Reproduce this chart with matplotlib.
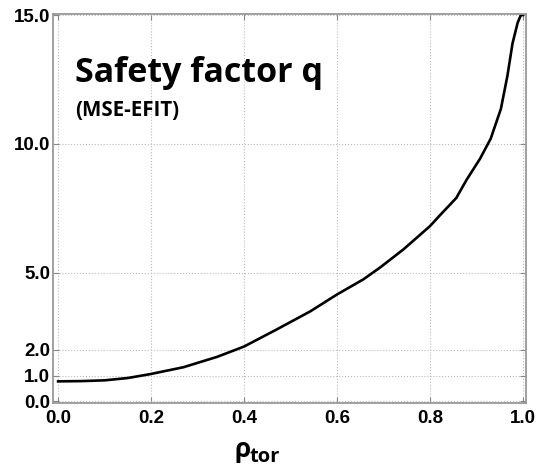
import matplotlib
matplotlib.use('Agg')
import matplotlib.pyplot as plt

# q profile
rho = [0.0, 0.05, 0.1, 0.15, 0.198, 0.27, 0.342, 0.4, 0.471, 0.543, 0.6,
       0.657, 0.693, 0.743, 0.8, 0.823, 0.857, 0.879, 0.908, 0.931, 0.953,
       0.967, 0.978, 0.989, 0.996, 1.0]
q = [0.78, 0.79, 0.82, 0.91, 1.06, 1.33, 1.73, 2.13, 2.8, 3.5, 4.15,
     4.74, 5.2, 5.9, 6.8, 7.25, 7.9, 8.6, 9.42, 10.2, 11.36,
     12.64, 13.9, 14.7, 15.0, 15.0]

xticks = [0.0, 0.2, 0.4, 0.6, 0.8, 1.0]
yticks = [0.0, 1.0, 2.0, 5.0, 10.0, 15.0]

fig = plt.figure(figsize=(5.37, 4.66), dpi=100)
ax = fig.add_axes([53/537, 1 - 403/466, 473/537, 389/466])

ax.plot(rho, q, color='black', lw=1.9, solid_joinstyle='round')

ax.set_xlim(-0.011, 1.007)
ax.set_ylim(-0.06, 15.04)
ax.set_xticks(xticks)
ax.set_yticks(yticks)
ax.set_xticklabels(['%.1f' % v for v in xticks], fontweight='bold',
                   fontsize=13.5, family='Liberation Sans')
ax.set_yticklabels(['%.1f' % v for v in yticks], fontweight='bold',
                   fontsize=13.5, family='Liberation Sans')
ax.tick_params(direction='in', length=4, color='#888888', top=True, right=True, pad=5)
ax.tick_params(axis='y', pad=2)
ax.grid(True, ls=':', color='#bbbbbb', lw=0.8)
for s in ax.spines.values():
    s.set_color('#999999')
    s.set_linewidth(1.3)

ax.text(0.047, 0.825, 'Safety factor q', transform=ax.transAxes,
        fontsize=24.5, fontweight='bold', family='Open Sans', va='baseline')
ax.text(0.047, 0.737, '(MSE-EFIT)', transform=ax.transAxes,
        fontsize=14.8, fontweight='bold', family='Open Sans', va='baseline')

fig.text(234/537, 1 - 457/466, '\u03c1', fontsize=19, fontweight='bold',
         family='Open Sans', va='baseline')
fig.text(250/537, 1 - 461.5/466, 'tor', fontsize=14.5, fontweight='bold',
         family='Open Sans', va='baseline')

fig.savefig('out.png', dpi=100)
